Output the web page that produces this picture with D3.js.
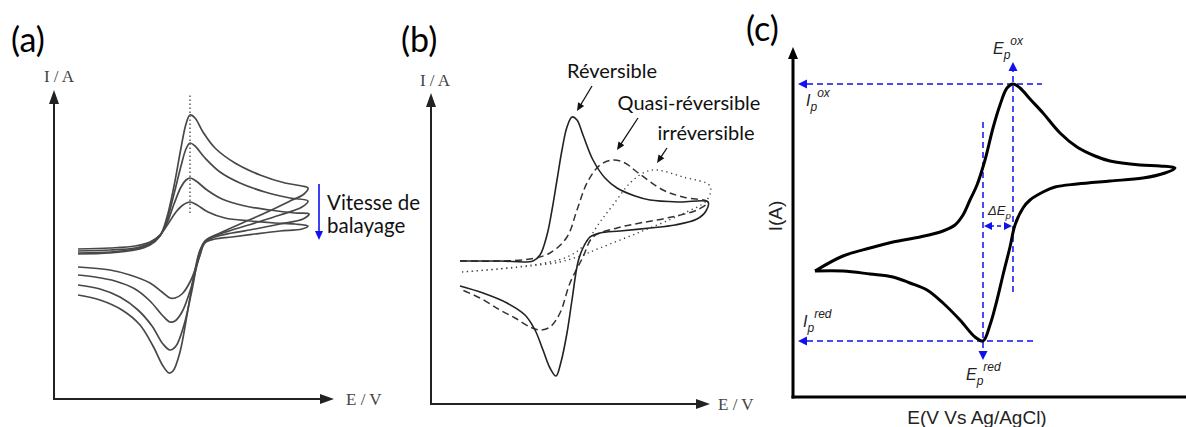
<!DOCTYPE html>
<html>
<head>
<meta charset="utf-8">
<script src="https://d3js.org/d3.v7.min.js"></script>
<style>
  body { margin: 0; background: #fff; }
  text { font-family: Lato, "Open Sans", sans-serif; }
</style>
</head>
<body>
<div id="chart"></div>
<script>

// ---- data (E, I in arbitrary units) ----

// (a) four scan rates, forward then reverse sweep
var scanFwd = [
  [[24,145],[56,146],[81,149],[96,154],[106,163],[113,182],[120,213],[127,251],[132,275],[136,284],[141,281],[149,267],[161,251],[181,236],[206,224],[231,216],[248,213],[254,211]],
  [[24,146],[56,147],[81,150],[96,155],[106,163],[113,179],[120,205],[127,233],[132,250],[136,256],[141,253],[151,241],[166,227],[186,216],[211,207],[236,201],[254,198]],
  [[24,148],[56,149],[81,151],[96,156],[106,164],[113,176],[120,195],[127,212],[132,219],[136,221],[142,218],[153,209],[168,200],[191,193],[216,189],[241,186],[255,185]],
  [[24,150],[56,151],[81,153],[96,157],[106,164],[114,175],[122,187],[129,194],[136,197],[143,194],[154,187],[171,181],[196,178],[221,176],[241,175],[254,173]]
];
var scanRev = [
  [[254,211],[250,205],[236,198],[211,186],[186,175],[166,166],[152,159],[146,149],[140,124],[133,84],[126,47],[119,28],[115,26],[109,33],[99,53],[86,74],[68,89],[46,99],[24,104]],
  [[254,198],[248,192],[226,184],[201,176],[178,169],[160,163],[151,158],[145,144],[138,109],[130,74],[122,53],[116,49],[109,55],[98,73],[84,89],[66,102],[46,110],[24,114]],
  [[255,185],[249,180],[226,175],[201,170],[178,166],[161,162],[151,157],[145,141],[137,111],[128,87],[121,78],[116,77],[109,83],[96,98],[81,110],[61,118],[41,122],[24,124]],
  [[254,173],[248,170],[226,168],[201,165],[178,162],[161,160],[151,156],[145,141],[137,119],[128,105],[121,101],[116,101],[108,107],[96,116],[76,124],[56,129],[24,132]]
];
var peakE_a = 136, peakLineI = [186, 306];

// (b) reversible / quasi-reversible / irreversible
var revFwd = [[29,143],[69,143],[102,143],[109,149],[116,169],[121,194],[126,224],[131,254],[136,277],[141,287],[146,284],[152,269],[162,244],[174,226],[186,216],[204,208],[219,204],[249,202],[277,202]];
var revBack = [[277,202],[275,193],[266,185],[244,179],[219,176],[189,173],[169,171],[159,167],[152,156],[147,142],[141,104],[136,71],[130,42],[125,28],[119,36],[112,54],[104,74],[94,89],[76,101],[52,111],[29,118]];
var quasiFwd = [[29,143],[69,143],[99,145],[119,151],[136,167],[146,194],[156,221],[169,239],[182,244],[194,241],[206,232],[232,214],[252,207],[277,202]];
var quasiBack = [[277,202],[266,194],[236,186],[209,181],[186,176],[162,167],[152,147],[139,121],[129,91],[119,77],[109,74],[99,77],[84,86],[69,94],[49,106],[29,115]];
var irrFwd = [[31,132],[86,137],[119,142],[136,147],[149,155],[159,167],[169,182],[182,199],[199,221],[214,232],[226,234],[252,227],[279,218]];
var irrBack = [[279,218],[276,204],[249,189],[209,172],[169,156],[149,148],[129,142],[99,138],[69,135],[31,132]];
var labelsB = ["Réversible", "Quasi-réversible", "irréversible"];

// (c) single voltammogram
var cvFwd = [[22,126],[50,141],[77,149],[100,155],[127,160],[150,166],[162,172],[170,182],[177,197],[184,212],[192,237],[200,269],[207,292],[214,309],[220,313],[227,309],[237,298],[250,284],[267,264],[284,250],[302,241],[317,236],[347,232],[367,231],[382,229]];
var cvBack = [[382,229],[372,224],[350,219],[317,216],[284,213],[262,210],[250,205],[237,197],[230,189],[222,172],[217,150],[210,122],[204,97],[197,72],[190,56],[182,60],[167,77],[150,94],[134,107],[117,114],[100,120],[77,123],[50,126],[22,126]];
var EpOx = 220, IpOx = 313, EpRed = 190, IpRed = 56;

// ---- drawing ----
var svg = d3.select("#chart").append("svg")
  .attr("width", 1186).attr("height", 427);

var blue = "#1010f0";

function tri(g, x, y, dir, len, half, color) {
  // filled arrowhead with tip at (x,y)
  var p;
  if (dir == "up") p = [[x,y],[x-half,y+len],[x+half,y+len]];
  if (dir == "down") p = [[x,y],[x-half,y-len],[x+half,y-len]];
  if (dir == "right") p = [[x,y],[x-len,y-half],[x-len,y+half]];
  if (dir == "left") p = [[x,y],[x+len,y-half],[x+len,y+half]];
  g.append("path").attr("d", "M" + p.join("L") + "Z").attr("fill", color);
}

function axesArrows(g, x, y, col, w, len, half) {
  g.append("line").attr("x1", x(0)).attr("y1", y(0)).attr("x2", x(0)).attr("y2", y.range()[1] + len - 2)
    .attr("stroke", col).attr("stroke-width", w);
  g.append("line").attr("x1", x(0) - w/2).attr("y1", y(0)).attr("x2", x.range()[1] - len + 2).attr("y2", y(0))
    .attr("stroke", col).attr("stroke-width", w);
  tri(g, x(0), y.range()[1], "up", len, half, col);
  tri(g, x.range()[1], y(0), "right", len, half, col);
}

var smooth = d3.curveCatmullRom.alpha(0.5);

// ===== (a) =====
var xa = d3.scaleLinear().domain([0, 280]).range([54, 334]);
var ya = d3.scaleLinear().domain([0, 309]).range([399, 90]);
var ga = svg.append("g");
var lineA = d3.line().x(function(d){ return xa(d[0]); }).y(function(d){ return ya(d[1]); }).curve(smooth);

axesArrows(ga, xa, ya, "#222", 2, 14, 5);

scanFwd.forEach(function(c, i) {
  ga.append("path").attr("d", lineA(c.concat(scanRev[i].slice(1))))
    .attr("fill", "none").attr("stroke", "#484848").attr("stroke-width", 1.7);
});
ga.append("line")
  .attr("x1", xa(peakE_a)).attr("x2", xa(peakE_a))
  .attr("y1", ya(peakLineI[0])).attr("y2", ya(peakLineI[1]))
  .attr("stroke", "#666").attr("stroke-width", 1.6).attr("stroke-dasharray", "1.5,2.5");

ga.append("text").attr("x", 11).attr("y", 52).style("font-size", "34px").text("(a)");
ga.append("text").attr("x", 59).attr("y", 82).attr("text-anchor", "middle")
  .style("font-family", "'Liberation Serif', serif").style("font-size", "17px").attr("fill", "#444").text("I / A");
ga.append("text").attr("x", 346).attr("y", 405)
  .style("font-family", "'Liberation Serif', serif").style("font-size", "17px").attr("fill", "#444").text("E / V");

// blue arrow: scan rate
ga.append("line").attr("x1", xa(265)).attr("x2", xa(265)).attr("y1", ya(215)).attr("y2", ya(165))
  .attr("stroke", blue).attr("stroke-width", 1.6);
tri(ga, xa(265), ya(159), "down", 9, 4, blue);
ga.append("text").attr("x", xa(273)).attr("y", ya(189)).style("font-size", "20.5px").attr("fill", "#111").text("Vitesse de");
ga.append("text").attr("x", xa(273)).attr("y", ya(166)).style("font-size", "20.5px").attr("fill", "#111").text("balayage");

// ===== (b) =====
var xb = d3.scaleLinear().domain([0, 279]).range([431, 710]);
var yb = d3.scaleLinear().domain([0, 311]).range([404, 93]);
var gb = svg.append("g");
var lineB = d3.line().x(function(d){ return xb(d[0]); }).y(function(d){ return yb(d[1]); }).curve(smooth);

axesArrows(gb, xb, yb, "#222", 2, 14, 5);

gb.append("path").attr("d", lineB(irrFwd.concat(irrBack.slice(1))))
  .attr("fill", "none").attr("stroke", "#444").attr("stroke-width", 1.4)
  .attr("stroke-dasharray", "1.3,3.6");
gb.append("path").attr("d", lineB(quasiFwd.concat(quasiBack.slice(1))))
  .attr("fill", "none").attr("stroke", "#333").attr("stroke-width", 1.5)
  .attr("stroke-dasharray", "7,4");
gb.append("path").attr("d", lineB(revFwd.concat(revBack.slice(1))))
  .attr("fill", "none").attr("stroke", "#222").attr("stroke-width", 1.6);

gb.append("text").attr("x", 401).attr("y", 52).style("font-size", "34px").text("(b)");
gb.append("text").attr("x", 435).attr("y", 86).attr("text-anchor", "middle")
  .style("font-family", "'Liberation Serif', serif").style("font-size", "17px").attr("fill", "#444").text("I / A");
gb.append("text").attr("x", 718).attr("y", 410)
  .style("font-family", "'Liberation Serif', serif").style("font-size", "17px").attr("fill", "#444").text("E / V");

var labPos = [[181, 326], [258, 294], [275, 264]];
var labArrows = [[[161,318],[146,293]], [[207,286],[186,254]], [[236,256],[226,241]]];
labelsB.forEach(function(t, i) {
  gb.append("text").attr("x", xb(labPos[i][0])).attr("y", yb(labPos[i][1]))
    .attr("text-anchor", "middle").style("font-size", "20px").attr("fill", "#111").text(t);
  var a = labArrows[i];
  var x1 = xb(a[0][0]), y1 = yb(a[0][1]), x2 = xb(a[1][0]), y2 = yb(a[1][1]);
  var ang = Math.atan2(y2 - y1, x2 - x1), L = 8, H = 3.5;
  gb.append("line").attr("x1", x1).attr("y1", y1)
    .attr("x2", x2 - Math.cos(ang) * L * 0.8).attr("y2", y2 - Math.sin(ang) * L * 0.8)
    .attr("stroke", "#111").attr("stroke-width", 1.3);
  var bx = x2 - Math.cos(ang) * L, by = y2 - Math.sin(ang) * L;
  gb.append("path").attr("fill", "#111")
    .attr("d", "M" + x2 + "," + y2 +
      "L" + (bx - Math.sin(ang) * H) + "," + (by + Math.cos(ang) * H) +
      "L" + (bx + Math.sin(ang) * H) + "," + (by - Math.cos(ang) * H) + "Z");
});

// ===== (c) =====
var xc = d3.scaleLinear().domain([0, 393]).range([793, 1186]);
var yc = d3.scaleLinear().domain([0, 350]).range([397, 47]);
var gc = svg.append("g");
var lineC = d3.line().x(function(d){ return xc(d[0]); }).y(function(d){ return yc(d[1]); }).curve(smooth);

gc.append("line").attr("x1", xc(0)).attr("y1", yc(0) + 1.5).attr("x2", xc(0)).attr("y2", yc.range()[1] + 10)
  .attr("stroke", "#000").attr("stroke-width", 3);
gc.append("line").attr("x1", xc(0) - 1.5).attr("y1", yc(0)).attr("x2", 1186).attr("y2", yc(0))
  .attr("stroke", "#000").attr("stroke-width", 3);
tri(gc, xc(0), yc.range()[1], "up", 12, 5, "#000");

// blue guides
function dash(x1, y1, x2, y2) {
  gc.append("line").attr("x1", x1).attr("y1", y1).attr("x2", x2).attr("y2", y2)
    .attr("stroke", blue).attr("stroke-width", 1.5).attr("stroke-dasharray", "6,4");
}
dash(xc(14), yc(IpOx), xc(249), yc(IpOx));
tri(gc, xc(5), yc(IpOx), "left", 9, 4.5, blue);
dash(xc(EpOx), yc(105), xc(EpOx), yc(326));
tri(gc, xc(EpOx), yc(335), "up", 9, 4.5, blue);
dash(xc(14), yc(IpRed), xc(240), yc(IpRed));
tri(gc, xc(5), yc(IpRed), "left", 9, 4.5, blue);
dash(xc(EpRed), yc(275), xc(EpRed), yc(46));
tri(gc, xc(EpRed), yc(37), "down", 9, 4.5, blue);
// delta Ep double arrow
gc.append("line").attr("x1", xc(EpRed) + 7).attr("x2", xc(EpOx) - 7).attr("y1", yc(171)).attr("y2", yc(171))
  .attr("stroke", blue).attr("stroke-width", 1.5).attr("stroke-dasharray", "4,3");
tri(gc, xc(EpRed) + 1, yc(171), "left", 8, 4, blue);
tri(gc, xc(EpOx) - 1, yc(171), "right", 8, 4, blue);

gc.append("path").attr("d", lineC(cvFwd.concat(cvBack.slice(1))))
  .attr("fill", "none").attr("stroke", "#000").attr("stroke-width", 3)
  .attr("stroke-linejoin", "round");

function subSup(x, y, main, sub, sup, size) {
  var t = gc.append("text").attr("x", x).attr("y", y)
    .style("font-family", "'Liberation Sans', Arial, sans-serif").style("font-style", "italic")
    .style("font-size", size + "px").attr("fill", "#222");
  t.append("tspan").text(main);
  t.append("tspan").attr("dy", size * 0.3).style("font-size", (size * 0.75) + "px").text(sub);
  if (sup) t.append("tspan").attr("dy", -size * 0.85).style("font-size", (size * 0.75) + "px").text(sup);
}
subSup(993, 54, "E", "p", "ox", 16);
subSup(806, 106, "I", "p", "ox", 16);
subSup(803, 327, "I", "p", "red", 16);
subSup(966, 380, "E", "p", "red", 16);
subSup(988, 215, "ΔE", "p", null, 13);

gc.append("text").attr("x", 746).attr("y", 41).style("font-size", "34px").text("(c)");
gc.append("text").attr("transform", "translate(782,216) rotate(-90)").attr("text-anchor", "middle")
  .style("font-family", "'Liberation Sans', Arial, sans-serif").style("font-size", "19px").attr("fill", "#222").text("I(A)");
gc.append("text").attr("x", 977).attr("y", 424).attr("text-anchor", "middle")
  .style("font-family", "'Liberation Sans', Arial, sans-serif").style("font-size", "19px").attr("fill", "#222").text("E(V Vs Ag/AgCl)");

</script>
</body>
</html>
